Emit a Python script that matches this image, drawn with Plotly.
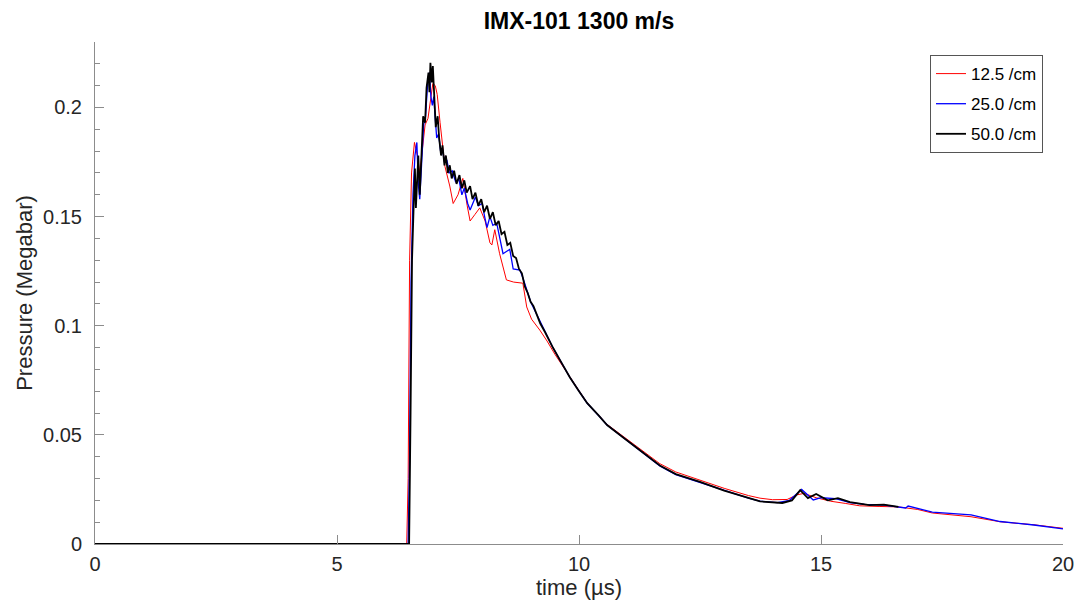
import plotly.graph_objects as go

# ---- data ----
t_red = [0, 6.44, 6.47, 6.50, 6.54, 6.60, 6.66, 6.71, 6.76, 6.82, 6.88, 6.93, 6.98, 7.03, 7.07,
         7.13, 7.23, 7.33, 7.40, 7.50, 7.60, 7.69, 7.75, 7.85, 7.95, 8.06, 8.16, 8.20, 8.26, 8.36, 8.43,
         8.50, 8.65, 8.84, 8.92, 9.02, 9.19, 9.34, 9.50, 9.81, 10.17, 10.58, 11.2, 11.67, 12.0, 12.5,
         13.0, 13.5, 13.74, 14.0, 14.3, 14.5, 14.65, 14.9, 15.2, 15.5, 15.8, 16.2, 16.6, 17.0, 17.3,
         18.1, 18.7, 19.4, 20.0]
p_red = [0, 0, 0.03, 0.13, 0.170, 0.184, 0.178, 0.170, 0.180, 0.192, 0.195, 0.203, 0.211, 0.210, 0.206,
         0.193, 0.173, 0.164, 0.156, 0.160, 0.1675, 0.155, 0.148, 0.151, 0.154, 0.148, 0.138, 0.137, 0.144, 0.133, 0.127,
         0.121, 0.120, 0.1195, 0.1086, 0.103, 0.098, 0.093, 0.087, 0.0765, 0.0646, 0.0548, 0.0445, 0.0368, 0.0330, 0.0292,
         0.0255, 0.0222, 0.0210, 0.0203, 0.0204, 0.0225, 0.0232, 0.0212, 0.0196, 0.0186, 0.0175, 0.0172, 0.0170, 0.0158, 0.0142,
         0.0125, 0.0102, 0.0088, 0.0072]

t_blue = [0, 6.47, 6.50, 6.53, 6.57, 6.61, 6.65, 6.68, 6.71, 6.75, 6.79, 6.83, 6.87, 6.91, 6.94, 6.97,
          7.00, 7.03, 7.06, 7.10, 7.14, 7.18, 7.22, 7.27, 7.32, 7.38, 7.45, 7.52, 7.58, 7.63, 7.70, 7.75,
          7.80, 7.86, 7.92, 8.00, 8.05, 8.10, 8.16, 8.22, 8.30, 8.36, 8.43, 8.50, 8.57, 8.64, 8.78, 8.84,
          8.92, 9.0, 9.13, 9.3, 9.46, 9.64, 9.81, 10.0, 10.17, 10.4, 10.58, 10.9, 11.2, 11.67, 12.0, 12.5,
          13.0, 13.5, 13.74, 14.1, 14.35, 14.6, 14.84, 15.0, 15.3, 15.6, 15.9, 16.3, 16.75, 16.8, 17.3,
          18.1, 18.7, 19.4, 20.0]
p_blue = [0, 0, 0.04, 0.12, 0.160, 0.178, 0.184, 0.165, 0.158, 0.178, 0.192, 0.196, 0.210, 0.216, 0.205, 0.201,
          0.205, 0.195, 0.186, 0.188, 0.180, 0.181, 0.175, 0.176, 0.170, 0.171, 0.166, 0.167, 0.160, 0.163, 0.156, 0.153,
          0.156, 0.159, 0.155, 0.156, 0.150, 0.145, 0.150, 0.146, 0.147, 0.140, 0.133, 0.134, 0.135, 0.126, 0.1255, 0.122,
          0.116, 0.111, 0.105, 0.097, 0.090, 0.083, 0.0764, 0.070, 0.0645, 0.059, 0.0545, 0.049, 0.0437, 0.0358, 0.0318, 0.0281,
          0.0244, 0.0210, 0.0196, 0.0190, 0.0200, 0.0250, 0.0202, 0.0212, 0.0208, 0.0190, 0.0182, 0.0178, 0.0165, 0.0174, 0.0146,
          0.0133, 0.0103, 0.0087, 0.0069]

t_black = [0, 6.49, 6.52, 6.55, 6.58, 6.61, 6.63, 6.68, 6.71, 6.75, 6.78, 6.82, 6.85, 6.89, 6.91, 6.93,
           6.96, 6.98, 7.01, 7.04, 7.08, 7.11, 7.15, 7.18, 7.22, 7.25, 7.29, 7.33, 7.37, 7.42, 7.47, 7.53,
           7.58, 7.63, 7.68, 7.75, 7.80, 7.86, 7.92, 7.98, 8.04, 8.10, 8.16, 8.22, 8.28, 8.34, 8.40, 8.46,
           8.52, 8.58, 8.64, 8.70, 8.76, 8.82, 8.88, 8.94, 9.00, 9.06, 9.13, 9.20, 9.30, 9.46, 9.64, 9.81,
           10.0, 10.17, 10.4, 10.58, 10.9, 11.2, 11.67, 12.0, 12.5, 13.0, 13.5, 13.74, 14.2, 14.4, 14.57,
           14.73, 14.9, 15.14, 15.35, 15.6, 15.8, 16.0, 16.3, 16.6]
p_black = [0, 0, 0.06, 0.13, 0.152, 0.172, 0.154, 0.178, 0.160, 0.179, 0.196, 0.193, 0.209, 0.216, 0.207, 0.2205,
           0.2115, 0.219, 0.201, 0.191, 0.196, 0.186, 0.178, 0.1826, 0.1735, 0.178, 0.170, 0.1735, 0.1675, 0.171, 0.165, 0.169,
           0.163, 0.1666, 0.161, 0.164, 0.158, 0.161, 0.155, 0.158, 0.152, 0.155, 0.149, 0.152, 0.146, 0.148, 0.142, 0.143,
           0.137, 0.138, 0.132, 0.131, 0.126, 0.124, 0.118, 0.115, 0.111, 0.109, 0.105, 0.101, 0.097, 0.090, 0.083, 0.0764,
           0.070, 0.0645, 0.059, 0.0545, 0.049, 0.0439, 0.036, 0.032, 0.0285, 0.0245, 0.0210, 0.0195, 0.0188, 0.0200, 0.0247,
           0.0210, 0.0229, 0.0200, 0.0210, 0.0192, 0.0185, 0.0178, 0.0180, 0.0170]

series_names = ["12.5 /cm", "25.0 /cm", "50.0 /cm"]
x_ticks = [0, 5, 10, 15, 20]
y_ticks = [0, 0.05, 0.1, 0.15, 0.2]
y_tick_text = ["0", "0.05", "0.1", "0.15", "0.2"]

FONT = "Liberation Sans, Arial, Helvetica, sans-serif"
AX = "#8c8c8c"
TXT = "#262626"

fig = go.Figure()
fig.add_trace(go.Scatter(x=t_red, y=p_red, mode="lines", name=series_names[0], legendgroup="a",
                         line=dict(color="#ff0000", width=1)))
fig.add_trace(go.Scatter(x=t_blue, y=p_blue, mode="lines", name=series_names[1], legendgroup="b",
                         line=dict(color="#0000ff", width=1.3)))
fig.add_trace(go.Scatter(x=t_black, y=p_black, mode="lines", name=series_names[2], legendgroup="c",
                         line=dict(color="#000000", width=1.8)))

fig.update_layout(
    width=1077, height=603,
    margin=dict(l=95, r=14, t=42, b=59, autoexpand=False),
    paper_bgcolor="white", plot_bgcolor="white",
    font=dict(family=FONT, color=TXT, size=20),
    title=dict(text="<b>IMX-101 1300 m/s</b>", x=(95 + 1063) / 2 / 1077, xanchor="center",
               y=1 - 21 / 603, yanchor="middle", font=dict(size=23, color="#000000", family=FONT)),
    showlegend=True,
    legend=dict(x=(930 - 95) / 968, y=0.974, xanchor="left", yanchor="top",
                traceorder="grouped", tracegroupgap=5,
                bgcolor="white", bordercolor="#555555", borderwidth=1,
                font=dict(size=17, color="#000000", family=FONT)),
)
fig.update_xaxes(range=[0, 20], tickvals=x_ticks, ticks="inside", ticklen=9, tickcolor=AX,
                 showline=True, linecolor=AX, linewidth=1, showgrid=False, zeroline=False,
                 automargin=False, ticklabeloverflow="allow", ticklabelstandoff=2,
                 title=dict(text="time (µs)", font=dict(size=22), standoff=4),
                 tickfont=dict(size=20))
fig.update_yaxes(range=[0, 0.23], tickvals=y_ticks, ticktext=y_tick_text, ticks="inside", ticklen=9,
                 tickcolor=AX, showline=True, linecolor=AX, linewidth=1, showgrid=False, zeroline=False,
                 automargin=False, ticklabeloverflow="allow", ticklabelstandoff=8,
                 minor=dict(dtick=0.01, ticks="inside", ticklen=5, tickcolor=AX, showgrid=False),
                 title=dict(text="Pressure (Megabar)", font=dict(size=22), standoff=4),
                 tickfont=dict(size=20))

fig.write_html("out.html")
